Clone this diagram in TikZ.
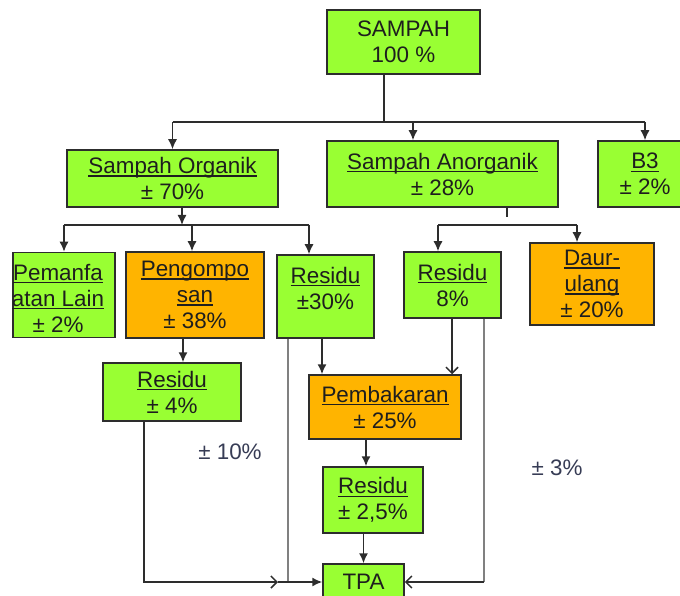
\documentclass[tikz,border=0pt]{standalone}
\usepackage{fontspec}
\setmainfont{Liberation Sans}
\usepackage{xcolor}
\usetikzlibrary{arrows.meta, positioning}
\definecolor{limegreen}{RGB}{153,255,51}
\definecolor{amber}{RGB}{255,180,0}
\definecolor{inkgray}{RGB}{45,45,45}
\definecolor{textdark}{RGB}{30,30,30}
\definecolor{pctblue}{RGB}{55,60,85}
\newcommand{\lnk}[1]{\setbox0\hbox{#1}\rlap{\rule[-3.2pt]{\wd0}{1.3pt}}\box0}
\tikzstyle{boxtext} = [font=\fontsize{22.4}{26}\selectfont, align=center, text=textdark, inner sep=0pt]
\tikzstyle{greenbox} = [boxtext, rectangle, draw=inkgray, line width=1.5pt, fill=limegreen]
\tikzstyle{orangebox} = [greenbox, fill=amber]
\tikzstyle{conn} = [line width=1.5pt, draw=inkgray]
\tikzstyle{arrow} = [conn, -{Latex[length=10pt,width=9pt]}]
\tikzstyle{openarrow} = [conn, -{Straight Barb[length=6pt,width=12pt]}]
\tikzstyle{grayline} = [line width=1.5pt, draw=gray]
\tikzstyle{pct} = [boxtext, text=pctblue]

\begin{document}
\begin{tikzpicture}[x=1pt, y=-1pt]
\useasboundingbox (0,0) rectangle (680,596);
\clip (0,0) rectangle (680,596);

% boxes
\node (sampah) [greenbox, minimum width=153pt, minimum height=64pt] at (403.5,42) {SAMPAH\\100 \%};
\node (org) [greenbox, minimum width=211pt, minimum height=57pt] at (172.5,178.5) {\lnk{Sampah Organik}\\± 70\%};
\node (anorg) [greenbox, minimum width=231pt, minimum height=66pt] at (442.5,174) {\lnk{Sampah Anorganik}\\± 28\%};
\node (b3) [greenbox, minimum width=94pt, minimum height=66pt] at (645,174) {\lnk{B3}\\± 2\%};

\node (manfaat) [greenbox, minimum width=102pt, minimum height=85pt,
  label={[boxtext, xshift=-6pt, yshift=-3pt]center:{\lnk{Pemanfa}\\\lnk{atan Lain}\\± 2\%}}] at (64,295) {};
\node (kompos) [orangebox, minimum width=138pt, minimum height=86pt] at (195,295) {\lnk{Pengompo}\\\lnk{san}\\± 38\%};
\node (residu30) [greenbox, minimum width=97pt, minimum height=83pt,
  label={[boxtext, yshift=8.5pt]center:{\lnk{Residu}\\±30\%}}] at (325.5,296.5) {};
\node (residu8) [greenbox, minimum width=97pt, minimum height=66pt] at (452.5,285) {\lnk{Residu}\\8\%};
\node (daur) [orangebox, minimum width=124pt, minimum height=82pt] at (592,284) {\lnk{Daur-}\\\lnk{ulang}\\± 20\%};

\node (residu4) [greenbox, minimum width=138pt, minimum height=58pt] at (172,392) {\lnk{Residu}\\± 4\%};
\node (bakar) [orangebox, minimum width=152pt, minimum height=64pt] at (385,407) {\lnk{Pembakaran}\\± 25\%};
\node (residu25) [greenbox, minimum width=100pt, minimum height=66pt] at (373,500) {\lnk{Residu}\\± 2,5\%};
\node (tpa) [greenbox, minimum width=81pt, minimum height=36pt] at (363.5,582) {TPA};

\node (p10) [pct] at (230,452) {± 10\%};
\node (p3) [pct] at (557,468) {± 3\%};

% helper points
\coordinate (top) at (384,122);
\coordinate (toanorg) at (413,122);
\coordinate (orgbus) at (182,225);
\coordinate (orgbusR) at (309,225);
\coordinate (tokompos) at (192,225);
\coordinate (stub) at (507,217);
\coordinate (anbusL) at (438,225);
\coordinate (anbusR) at (577,225);
\coordinate (k4) at (183,0);
\coordinate (r30a) at (322,0);
\coordinate (r30g) at (288,0);
\coordinate (r8a) at (452,0);
\coordinate (r8g) at (484,0);
\coordinate (r4) at (144,0);
\coordinate (chev) at (278,0);
\coordinate (bak) at (366,0);

% top level
\draw [conn] (sampah.south -| top) -- (top);
\draw [conn] (org.north |- top) -- (b3.north |- top);
\draw [arrow] (org.north |- top) -- (org.north);
\draw [arrow] (toanorg) -- (toanorg |- anorg.north);
\draw [arrow] (b3.north |- top) -- (b3.north);

% organik
\draw [arrow] (org.south -| orgbus) -- (orgbus);
\draw [conn] (manfaat.north |- orgbus) -- (orgbusR);
\draw [arrow] (manfaat.north |- orgbus) -- (manfaat.north);
\draw [arrow] (tokompos) -- (tokompos |- kompos.north);
\draw [arrow] (orgbusR) -- (orgbusR |- residu30.north);
\draw [arrow] (kompos.south -| k4) -- (k4 |- residu4.north);

% anorganik
\draw [conn] (anorg.south -| stub) -- (stub);
\draw [conn] (anbusL) -- (anbusR);
\draw [arrow] (anbusL) -- (anbusL |- residu8.north);
\draw [arrow] (anbusR) -- (anbusR |- daur.north);

% to pembakaran and TPA
\draw [arrow] (residu30.south -| r30a) -- (r30a |- bakar.north);
\draw [grayline] (residu30.south -| r30g) -- (r30g |- tpa.west);
\draw [openarrow] (residu8.south -| r8a) -- (r8a |- bakar.north);
\draw [grayline] (residu8.south -| r8g) -- (r8g |- tpa.east);
\draw [openarrow] (r8g |- tpa.east) -- (tpa.east);
\draw [arrow] (bakar.south -| bak) -- (bak |- residu25.north);
\draw [arrow] (residu25.south -| tpa.north) -- (tpa.north);
\draw [openarrow] (residu4.south -| r4) |- (chev |- tpa.west);
\draw [arrow] (chev |- tpa.west) -- (tpa.west);
\end{tikzpicture}
\end{document}
